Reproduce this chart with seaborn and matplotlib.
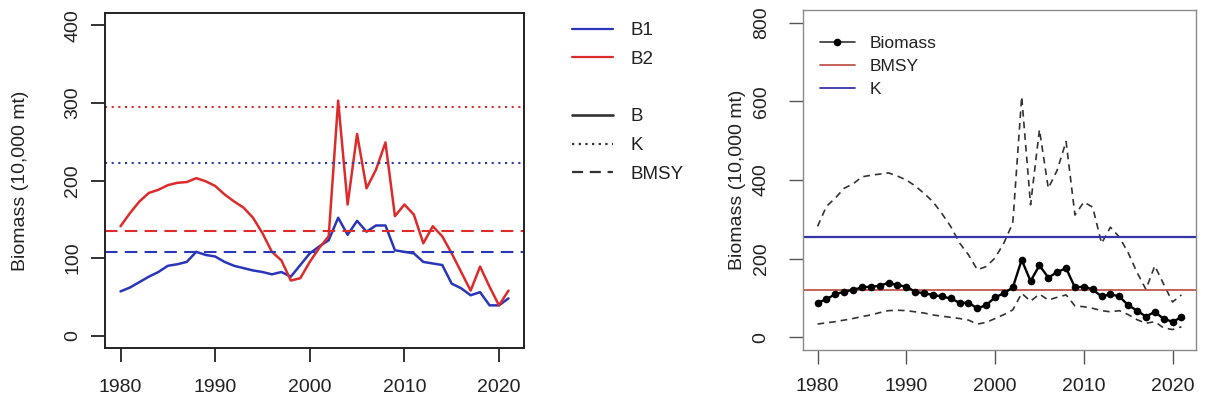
import matplotlib
matplotlib.use("Agg")
import matplotlib.pyplot as plt
from matplotlib.lines import Line2D
import numpy as np
import pandas as pd
import seaborn as sns

# ---- data -------------------------------------------------------------
years = list(range(1980, 2022))

# two-model comparison (left panel)
b1 = [57, 62, 69, 76, 82, 90, 92, 95, 108, 104, 102, 95, 90, 87, 84, 82,
      79, 82, 76, 91, 106, 115, 123, 152, 130, 148, 134, 142, 142, 110,
      108, 106, 95, 93, 91, 67, 61, 52, 56, 39, 39, 48]
b2 = [141, 158, 173, 184, 188, 194, 197, 198, 203, 199, 193, 182, 173, 165,
      152, 132, 108, 97, 71, 74, 95, 113, 128, 303, 169, 260, 190, 214, 249,
      154, 169, 156, 119, 141, 128, 106, 82, 58, 89, 63, 39, 58]
k1, k2 = 223, 295
bmsy1, bmsy2 = 108, 135

# biomass with interval (right panel)
biomass = [88, 97, 110, 116, 121, 127, 129, 131, 139, 133, 129, 116, 112,
           108, 104, 99, 88, 88, 74, 82, 102, 112, 127, 197, 143, 183, 152,
           166, 176, 127, 129, 122, 104, 110, 104, 82, 68, 53, 65, 47, 40, 51]
upper = [282, 333, 354, 379, 390, 408, 412, 415, 418, 410, 400, 385, 366,
         345, 315, 282, 240, 210, 172, 180, 202, 240, 291, 612, 337, 528, 379,
         425, 498, 311, 344, 331, 239, 280, 255, 215, 165, 122, 182, 135, 90,
         108]
lower = [34, 37, 40, 44, 48, 53, 57, 63, 68, 69, 68, 65, 62, 57, 54, 51, 48,
         44, 34, 38, 48, 58, 70, 112, 92, 110, 95, 102, 108, 80, 78, 74, 68,
         65, 68, 58, 45, 36, 40, 24, 20, 27]
bmsy = 121
k = 254

# ---- style ------------------------------------------------------------
sns.set_theme(style="ticks")
plt.rcParams["font.family"] = ["Liberation Sans", "DejaVu Sans"]
plt.rcParams["text.color"] = "#222222"
plt.rcParams["axes.labelcolor"] = "#222222"
plt.rcParams["xtick.color"] = "#222222"
plt.rcParams["ytick.color"] = "#222222"

blue = "#2a36b8"
red = "#dd2b2b"
FS = 14

W, H = 1205, 409
fig = plt.figure(figsize=(W / 100, H / 100), dpi=100)


def box(l, t, r, b):
    return [l / W, 1 - b / H, (r - l) / W, (b - t) / H]


# ---- left panel ---------------------------------------------------------
ax1 = fig.add_axes(box(105, 13, 524, 348))
df1 = pd.DataFrame({"Year": years * 2, "Biomass": b1 + b2,
                    "Model": ["B1"] * len(years) + ["B2"] * len(years)})
sns.lineplot(data=df1, x="Year", y="Biomass", hue="Model",
             palette={"B1": blue, "B2": red}, linewidth=1.8, ax=ax1,
             legend=False)
ax1.axhline(k1, color=blue, lw=1.5, ls=(0, (1, 2.2)))
ax1.axhline(k2, color=red, lw=1.5, ls=(0, (1, 2.2)))
ax1.axhline(bmsy1, color=blue, lw=1.5, ls=(0, (6, 3.5)))
ax1.axhline(bmsy2, color=red, lw=1.5, ls=(0, (6, 3.5)))
ax1.set_xlim(1978.36, 2022.64)
ax1.set_ylim(-16, 416)
ax1.set_xticks([1980, 1990, 2000, 2010, 2020])
ax1.set_yticks([0, 100, 200, 300, 400])
ax1.set_xlabel("")
ax1.set_ylabel("Biomass (10,000 mt)", fontsize=FS)
ax1.yaxis.set_label_coords((29 - 105) / 419, 0.5)
for s in ax1.spines.values():
    s.set_visible(True)
    s.set_color("#222222")
    s.set_linewidth(1.4)
ax1.tick_params(axis="both", direction="out", length=10, width=1.3,
                labelsize=FS, color="#222222", bottom=True, left=True)
ax1.tick_params(axis="x", pad=12)
ax1.tick_params(axis="y", pad=7)
for lab in ax1.get_yticklabels():
    lab.set_rotation(90)
    lab.set_va("center")

# legend between the panels
handles = [
    Line2D([], [], color=blue, lw=1.6),
    Line2D([], [], color=red, lw=1.6),
    Line2D([], [], color="none"),
    Line2D([], [], color="#333333", lw=1.9),
    Line2D([], [], color="#333333", lw=1.6, ls=(0, (1, 2))),
    Line2D([], [], color="#333333", lw=1.6, ls=(0, (5, 3))),
]
labels = ["B1", "B2", " ", "B", "K", "BMSY"]
fig.legend(handles, labels, loc="upper left",
           bbox_to_anchor=(572 / W, 1 - 22 / H), frameon=False,
           fontsize=13.5, handlelength=2.2, handletextpad=0.9,
           labelspacing=0.62, borderpad=0, borderaxespad=0)

# ---- right panel --------------------------------------------------------
ax2 = fig.add_axes(box(803, 10, 1196, 350))
gray = "#8a8a8a"
df2 = pd.DataFrame({"Year": years, "Biomass": biomass,
                    "Upper": upper, "Lower": lower})
sns.lineplot(data=df2, x="Year", y="Upper", color="#333333", lw=1.2,
             ls=(0, (4, 3)), ax=ax2)
sns.lineplot(data=df2, x="Year", y="Lower", color="#333333", lw=1.2,
             ls=(0, (4, 3)), ax=ax2)
ax2.axhline(bmsy, color="#c0574a", lw=1.3)
ax2.axhline(k, color="#3535a8", lw=1.6)
sns.lineplot(data=df2, x="Year", y="Biomass", color="black", lw=1.7,
             marker="o", markersize=5.5, markeredgewidth=0, ax=ax2)
ax2.set_xlim(1978.36, 2022.64)
ax2.set_ylim(-32, 832)
ax2.set_xticks([1980, 1990, 2000, 2010, 2020])
ax2.set_yticks([0, 200, 400, 600, 800])
ax2.set_xlabel("")
ax2.set_ylabel("Biomass (10,000 mt)", fontsize=FS)
ax2.yaxis.set_label_coords((746 - 803) / 393, 0.5)
for s in ax2.spines.values():
    s.set_visible(True)
    s.set_color(gray)
    s.set_linewidth(1.0)
ax2.tick_params(axis="both", direction="out", length=10, width=1.0,
                labelsize=FS, color="#555555", bottom=True, left=True)
ax2.tick_params(axis="x", pad=10)
ax2.tick_params(axis="y", pad=14)
for lab in ax2.get_yticklabels():
    lab.set_rotation(90)
    lab.set_va("center")

h2 = [
    Line2D([], [], color="#333333", lw=1.2, marker="o", markersize=5.5,
           markeredgewidth=0, markerfacecolor="black"),
    Line2D([], [], color="#c0574a", lw=1.3),
    Line2D([], [], color="#3535a8", lw=1.3),
]
ax2.legend(h2, ["Biomass", "BMSY", "K"], loc="upper left",
           bbox_to_anchor=((820 - 803) / 393, 1 - (36 - 10) / 340),
           frameon=False, fontsize=12.5, handlelength=2.0,
           handletextpad=0.85, labelspacing=0.45, borderpad=0,
           borderaxespad=0)

fig.savefig("out.png", dpi=100)
